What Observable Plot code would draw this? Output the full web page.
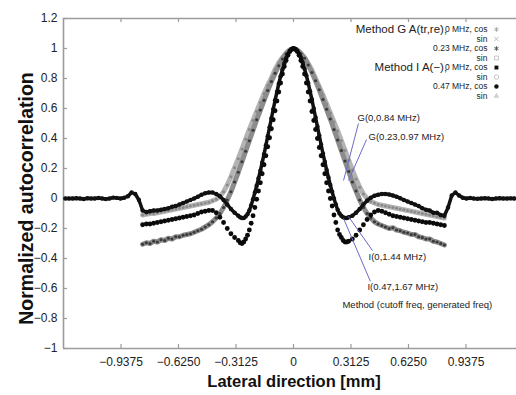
<!DOCTYPE html>
<html>
<head>
<meta charset="utf-8">
<script src="https://cdn.jsdelivr.net/npm/d3@7"></script>
<script src="https://cdn.jsdelivr.net/npm/@observablehq/plot@0.6"></script>
<style>
  body { margin: 0; background: #fff; }
  #chart svg { display: block; }
</style>
</head>
<body>
<div id="chart"></div>
<script>
// ---------- tick values and labels ----------
const yTickValues = [-1, -0.8, -0.6, -0.4, -0.2, 0, 0.2, 0.4, 0.6, 0.8, 1, 1.2];
const yTickLabels = ["−1", "−0.8", "−0.6", "−0.4", "−0.2", "0", "0.2", "0.4", "0.6", "0.8", "1", "1.2"];
const xTickValues = [-0.9375, -0.625, -0.3125, 0, 0.3125, 0.625, 0.9375];
const xTickLabels = ["−0.9375", "−0.6250", "−0.3125", "0", "0.3125", "0.6250", "0.9375"];

// ---------- series names ----------
const seriesNames = ["G(0,0.84 MHz)", "G(0.23,0.97 MHz)", "I(0,1.44 MHz)", "I(0.47,1.67 MHz)"];

// ---------- sample positions (mm) ----------
const xsG = d3.range(83).map(i => +(-0.82 + i * 0.02).toFixed(2));     // -0.82 .. 0.82
const xsLobe = d3.range(61).map(i => +(-0.30 + i * 0.01).toFixed(2));  // -0.30 .. 0.30
const xsI0Left = d3.range(47).map(i => +(-1.24 + i * 0.02).toFixed(2)); // -1.24 .. -0.32
const xsI0Right = d3.range(45).map(i => +(0.32 + i * 0.02).toFixed(2)); // 0.32 .. 1.20
const xsI47Left = d3.range(26).map(i => +(-0.82 + i * 0.02).toFixed(2)); // -0.82 .. -0.32
const xsI47Right = d3.range(26).map(i => +(0.32 + i * 0.02).toFixed(2)); // 0.32 .. 0.82

// ---------- values ----------
// G(0,0.84 MHz)  x = -0.82 .. 0.82
const g0Values = [
  -0.11, -0.105, -0.1, -0.1, -0.095, -0.09, -0.085, -0.08, -0.075, -0.07,
  -0.065, -0.06, -0.055, -0.05, -0.045, -0.04, -0.035, -0.03, -0.025, -0.015,
  -0.005, 0.015, 0.045, 0.09, 0.145, 0.205, 0.265, 0.33, 0.395, 0.46,
  0.52, 0.58, 0.64, 0.7, 0.755, 0.805, 0.86, 0.905, 0.94, 0.97, 0.99,
  1.0, 0.99, 0.97, 0.94, 0.9, 0.855, 0.8, 0.745, 0.69, 0.63,
  0.57, 0.51, 0.45, 0.385, 0.32, 0.255, 0.19, 0.13, 0.075, 0.03,
  0.0, -0.02, -0.03, -0.04, -0.045, -0.05, -0.055, -0.06, -0.065, -0.07,
  -0.075, -0.08, -0.085, -0.09, -0.095, -0.1, -0.105, -0.11, -0.115, -0.12,
  -0.125, -0.13
];
// G(0.23,0.97 MHz)  x = -0.82 .. 0.82
const g23Values = [
  -0.305, -0.295, -0.3, -0.285, -0.29, -0.275, -0.28, -0.265, -0.27, -0.255,
  -0.255, -0.245, -0.24, -0.235, -0.225, -0.215, -0.205, -0.19, -0.175, -0.155,
  -0.13, -0.1, -0.06, -0.01, 0.045, 0.11, 0.175, 0.245, 0.315, 0.385,
  0.455, 0.525, 0.59, 0.655, 0.72, 0.78, 0.835, 0.885, 0.93, 0.965, 0.99,
  1.0, 0.99, 0.965, 0.935, 0.89, 0.84, 0.785, 0.725, 0.66, 0.595,
  0.53, 0.46, 0.39, 0.32, 0.25, 0.18, 0.11, 0.05, -0.01, -0.06,
  -0.1, -0.13, -0.155, -0.17, -0.18, -0.19, -0.2, -0.195, -0.21, -0.215,
  -0.225, -0.23, -0.24, -0.24, -0.255, -0.26, -0.27, -0.27, -0.285, -0.29,
  -0.3, -0.31
];
// I(0,1.44 MHz)
const i0LeftValues = [
  0, 0, 0, 0.002, 0, -0.003, 0.002, 0, 0, 0.003,
  0, -0.004, 0, 0.006, 0.004, 0, 0.005, 0.015, 0.04, 0.03,
  -0.01, -0.08, -0.09, -0.085, -0.08, -0.08, -0.075, -0.07, -0.065, -0.055,
  -0.05, -0.04, -0.03, -0.02, -0.01, 0, 0.012, 0.025, 0.035, 0.04,
  0.04, 0.03, 0.015, -0.01, -0.04, -0.07, -0.095
];
const i0LobeValues = [
  -0.115, -0.125, -0.13, -0.13, -0.12, -0.105, -0.08, -0.045, -0.005, 0.04,
  0.085, 0.135, 0.185, 0.24, 0.295, 0.355, 0.415, 0.475, 0.535, 0.595,
  0.655, 0.71, 0.765, 0.815, 0.86, 0.9, 0.935, 0.962, 0.983, 0.995,
  1.0,
  0.995, 0.985, 0.965, 0.94, 0.905, 0.865, 0.82, 0.77, 0.715, 0.66,
  0.6, 0.54, 0.48, 0.42, 0.36, 0.3, 0.245, 0.19, 0.14, 0.09,
  0.045, 0.0, -0.04, -0.075, -0.1, -0.115, -0.125, -0.13, -0.13, -0.125
];
const i0RightValues = [
  -0.115, -0.095, -0.07, -0.04, -0.015, 0.005, 0.018, 0.025, 0.03, 0.03,
  0.027, 0.02, 0.012, 0.002, -0.01, -0.02, -0.03, -0.04, -0.05, -0.065,
  -0.075, -0.08, -0.095, -0.095, -0.11, -0.115, -0.06, 0.02, 0.04, 0.02,
  0.005, 0, 0.003, 0, -0.002, 0, 0.002, 0, -0.003, 0,
  0.002, 0, 0, 0.001, 0
];
// I(0.47,1.67 MHz)
const i47LeftValues = [
  -0.175, -0.17, -0.17, -0.165, -0.16, -0.155, -0.15, -0.145, -0.14, -0.135,
  -0.13, -0.125, -0.12, -0.115, -0.11, -0.1, -0.09, -0.085, -0.08, -0.08,
  -0.095, -0.125, -0.16, -0.2, -0.235, -0.26
];
const i47LobeValues = [
  -0.28, -0.295, -0.3, -0.29, -0.27, -0.245, -0.21, -0.165, -0.115, -0.06,
  -0.005, 0.05, 0.105, 0.165, 0.225, 0.285, 0.345, 0.405, 0.465, 0.525,
  0.585, 0.65, 0.71, 0.77, 0.83, 0.88, 0.92, 0.955, 0.98, 0.995,
  1.0,
  0.995, 0.98, 0.955, 0.92, 0.88, 0.83, 0.77, 0.71, 0.65, 0.58,
  0.52, 0.46, 0.40, 0.34, 0.285, 0.225, 0.165, 0.105, 0.05, 0.0,
  -0.05, -0.11, -0.16, -0.21, -0.24, -0.26, -0.28, -0.29, -0.29, -0.285
];
const i47RightValues = [
  -0.27, -0.245, -0.21, -0.175, -0.14, -0.11, -0.09, -0.08, -0.085, -0.095,
  -0.105, -0.115, -0.12, -0.125, -0.13, -0.135, -0.14, -0.145, -0.15, -0.155,
  -0.16, -0.16, -0.165, -0.17, -0.175, -0.18
];

// ---------- legend text ----------
const legendMethods = ["Method G A(tr,re),", "", "", "", "Method I A(−),", "", "", ""];
const legendEntries = ["0 MHz, cos", "sin", "0.23 MHz, cos", "sin", "0 MHz, cos", "sin", "0.47 MHz, cos", "sin"];
const noteText = "Method (cutoff freq, generated freq)";

// ---------- build tables ----------
const rows = (name, xs, ys) => ys.map((y, i) => ({series: name, x: xs[i], y}));
const g0 = rows(seriesNames[0], xsG, g0Values);
const g23 = rows(seriesNames[1], xsG, g23Values);
const i0 = rows(seriesNames[2], xsI0Left.concat(xsLobe, xsI0Right), i0LeftValues.concat(i0LobeValues, i0RightValues));
const i47 = rows(seriesNames[3], xsI47Left.concat(xsLobe, xsI47Right), i47LeftValues.concat(i47LobeValues, i47RightValues));

const yLabelOf = new Map(yTickValues.map((v, i) => [v, yTickLabels[i]]));
const xLabelOf = new Map(xTickValues.map((v, i) => [v, xTickLabels[i]]));

// ---------- annotation layout (data units) ----------
const legendRowY = [1.127, 1.063, 1.0, 0.937, 0.873, 0.81, 0.747, 0.683];
const legendStyle = [
  {symbol: "asterisk", fill: "none", stroke: "#a8a8a8"},
  {symbol: "times", fill: "none", stroke: "#bdbdbd"},
  {symbol: "asterisk", fill: "none", stroke: "#555"},
  {symbol: "square", fill: "none", stroke: "#c4c4c4"},
  {symbol: "square", fill: "#111", stroke: "none"},
  {symbol: "circle", fill: "none", stroke: "#c4c4c4"},
  {symbol: "circle", fill: "#111", stroke: "none"},
  {symbol: "triangle", fill: "#cfcfcf", stroke: "none"}
];
const legendRows = legendEntries.map((t, i) => ({
  method: legendMethods[i], entry: t, y: legendRowY[i], ...legendStyle[i]
}));
const labelPos = [
  {x: 0.348, y: 0.54},
  {x: 0.408, y: 0.407},
  {x: 0.408, y: -0.393},
  {x: 0.402, y: -0.593}
];
const labels = seriesNames.map((s, i) => ({text: s, ...labelPos[i]}));
const pointers = [
  {x1: 0.353, y1: 0.5, x2: 0.272, y2: 0.12},
  {x1: 0.397, y1: 0.393, x2: 0.299, y2: 0.12},
  {x1: 0.299, y1: -0.12, x2: 0.429, y2: -0.347},
  {x1: 0.272, y1: -0.133, x2: 0.418, y2: -0.553}
];

const frameColor = "#9c9c9c";
const textColor = "#222";

const chart = Plot.plot({
  width: 516,
  height: 395,
  marginLeft: 63,
  marginRight: 0,
  marginTop: 18,
  marginBottom: 47,
  style: {fontFamily: "'Liberation Sans', Arial, sans-serif", background: "#fff", color: textColor},
  x: {domain: [-1.25, 1.212]},
  y: {domain: [-1, 1.2]},
  marks: [
    // frame (left, top, bottom)
    Plot.ruleY([-1, 1.2], {stroke: frameColor, strokeWidth: 1.6}),
    Plot.ruleX([-1.25], {stroke: frameColor, strokeWidth: 1.6}),
    // inward tick marks (4 px long)
    Plot.ruleY(yTickValues, {insetRight: 449, stroke: frameColor, strokeWidth: 1.2}),
    Plot.ruleX(xTickValues, {insetTop: 326, stroke: frameColor, strokeWidth: 1.2}),
    Plot.ruleX(xTickValues, {insetBottom: 326, stroke: frameColor, strokeWidth: 1.2}),
    // tick labels
    Plot.axisY(yTickValues, {anchor: "left", tickSize: 0, tickPadding: 6, fontSize: 12, fill: textColor, tickFormat: d => yLabelOf.get(d), label: null}),
    Plot.axisX(xTickValues, {anchor: "bottom", tickSize: 0, tickPadding: 9, fontSize: 12, fill: textColor, tickFormat: d => xLabelOf.get(d), label: null}),
    // axis titles
    Plot.text(["Normalized autocorrelation"], {text: d => d, frameAnchor: "left", textAnchor: "middle", lineAnchor: "middle", dx: -37, dy: 15, rotate: -90, fontSize: 19.5, fontWeight: "bold", fill: "#111"}),
    Plot.text(["Lateral direction [mm]"], {text: d => d, frameAnchor: "bottom", textAnchor: "middle", lineAnchor: "middle", dx: 4, dy: 33, fontSize: 16.5, fontWeight: "bold", fill: "#111"}),

    // G(0,0.84 MHz)
    Plot.line(g0, {x: "x", y: "y", stroke: "#b4b4b4", strokeWidth: 5}),
    Plot.dot(g0, {x: "x", y: "y", r: 1.5, fill: "#8a8a8a"}),
    // G(0.23,0.97 MHz)
    Plot.line(g23, {x: "x", y: "y", stroke: "#8c8c8c", strokeWidth: 5}),
    Plot.dot(g23, {x: "x", y: "y", r: 1.6, fill: "#3a3a3a"}),
    // I(0,1.44 MHz)
    Plot.line(i0, {x: "x", y: "y", stroke: "#111", strokeWidth: 3.5}),
    Plot.dot(i0, {x: "x", y: "y", r: 2.2, fill: "#111"}),
    // I(0.47,1.67 MHz)
    Plot.dot(i47, {x: "x", y: "y", r: 2.4, fill: "#0a0a0a"}),

    // pointers and labels
    Plot.link(pointers, {x1: "x1", y1: "y1", x2: "x2", y2: "y2", stroke: "#6b6bc9", strokeWidth: 1}),
    Plot.text(labels, {x: "x", y: "y", text: "text", textAnchor: "start", fontSize: 9.5, fill: textColor}),
    Plot.text([noteText], {x: () => 0.266, y: () => -0.707, text: d => d, textAnchor: "start", fontSize: 9.5, fill: textColor}),

    // legend
    Plot.text(legendRows, {x: () => 0.835, y: "y", text: "method", textAnchor: "end", fontSize: 11.5, fill: textColor}),
    Plot.text(legendRows, {x: () => 1.054, y: "y", text: "entry", textAnchor: "end", fontSize: 8.5, fill: textColor}),
    ...legendRows.map(r => Plot.dot([r], {x: () => 1.103, y: "y", symbol: r.symbol, fill: r.fill, stroke: r.stroke, r: 2.2, strokeWidth: 1}))
  ]
});

document.getElementById("chart").appendChild(chart);
</script>
</body>
</html>
